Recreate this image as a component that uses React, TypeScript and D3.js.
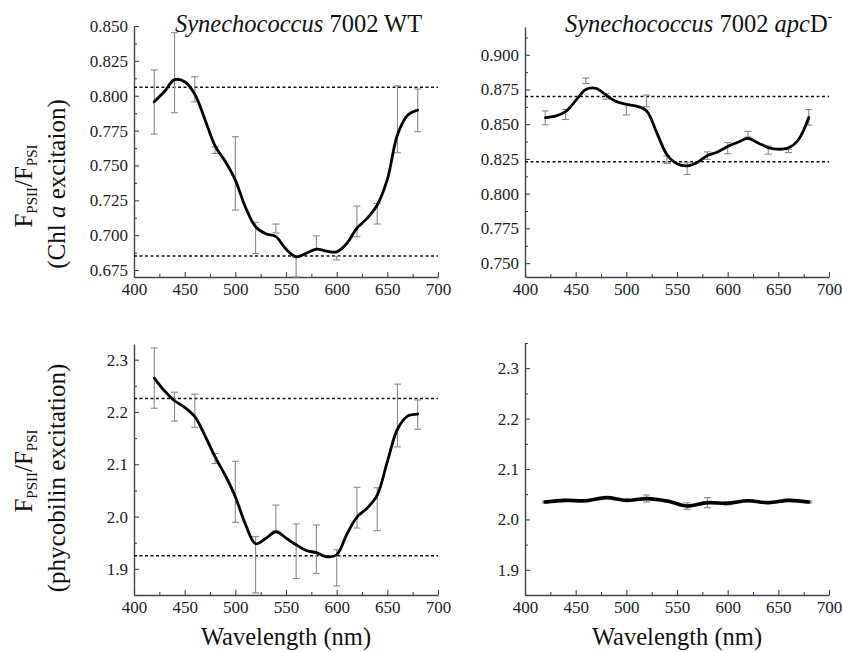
import React, { useRef, useEffect } from "react";
import * as d3 from "d3";

// measured points (nm)
const wavelengths = [420, 440, 460, 480, 500, 520, 540, 560, 580, 600, 620, 640, 660, 680];
// wavelengths of the smoothed curve
const fitWavelengths = [420, 430, 440, 450, 460, 470, 480, 490, 500, 510, 520, 530, 540, 550,
  560, 570, 580, 590, 600, 610, 620, 630, 640, 650, 660, 670, 680];

const xTicks = [400, 450, 500, 550, 600, 650, 700];
const xMinor = [425, 475, 525, 575, 625, 675];

// WT, Chl a excitation
const wtChlMean = [0.7955, 0.8165, 0.8046, 0.761, 0.7443, 0.698, 0.7048, 0.677, 0.6945, 0.6835, 0.7099, 0.7154, 0.7831, 0.7895];
const wtChlErr = [0.023, 0.0287, 0.009, 0.0024, 0.0263, 0.0112, 0.0032, 0.007, 0.005, 0.0012, 0.011, 0.0074, 0.024, 0.0153];
const wtChlFit = [0.7957, 0.803, 0.8115, 0.81, 0.801, 0.783, 0.764, 0.753, 0.7395, 0.72, 0.706, 0.701, 0.699, 0.69,
  0.6845, 0.687, 0.69, 0.6885, 0.688, 0.694, 0.705, 0.712, 0.7216, 0.74, 0.772, 0.786, 0.7897];
const wtChlRefs = [0.806, 0.685];
const wtChlTicks = [0.675, 0.7, 0.725, 0.75, 0.775, 0.8, 0.825, 0.85];

// apcD-, Chl a excitation
const apcChlMean = [0.8546, 0.857, 0.8813, 0.87, 0.8606, 0.8668, 0.8245, 0.818, 0.8274, 0.8328, 0.8428, 0.8314, 0.8308, 0.855];
const apcChlErr = [0.005, 0.0036, 0.002, 0.002, 0.0039, 0.0042, 0.0027, 0.0042, 0.0027, 0.004, 0.002, 0.003, 0.0012, 0.0056];
const apcChlFit = [0.8548, 0.8558, 0.859, 0.867, 0.875, 0.8758, 0.871, 0.8663, 0.8643, 0.863, 0.8596, 0.844, 0.8282, 0.8215,
  0.82, 0.8225, 0.8275, 0.83, 0.834, 0.837, 0.8398, 0.8365, 0.8332, 0.832, 0.833, 0.839, 0.8548];
const apcChlRefs = [0.87, 0.823];
const apcChlTicks = [0.75, 0.775, 0.8, 0.825, 0.85, 0.875, 0.9];

// WT, phycobilin excitation
const wtPcbMean = [2.2648, 2.2103, 2.2023, 2.111, 2.0474, 1.908, 1.997, 1.9337, 1.9375, 1.9019, 2.017, 2.0141, 2.1933, 2.195];
const wtPcbErr = [0.0577, 0.0276, 0.0317, 0.0096, 0.0584, 0.054, 0.025, 0.0523, 0.0465, 0.0346, 0.039, 0.041, 0.06, 0.028];
const wtPcbFit = [2.2648, 2.2405, 2.2215, 2.209, 2.191, 2.155, 2.114, 2.079, 2.038, 1.985, 1.948, 1.958, 1.971, 1.959,
  1.946, 1.935, 1.931, 1.923, 1.927, 1.966, 1.999, 2.016, 2.041, 2.105, 2.167, 2.192, 2.196];
const wtPcbRefs = [2.226, 1.925];
const pcbTicks = [1.9, 2.0, 2.1, 2.2, 2.3];

// apcD-, phycobilin excitation
const apcPcbMean = [2.0345, 2.0378, 2.037, 2.0432, 2.0378, 2.0414, 2.0365, 2.0265, 2.0332, 2.0319, 2.037, 2.0332, 2.0378, 2.0345];
const apcPcbErr = [0.002, 0.002, 0.002, 0.002, 0.002, 0.007, 0.002, 0.0065, 0.01, 0.003, 0.002, 0.002, 0.002, 0.002];
const apcPcbFit = [2.0345, 2.0378, 2.037, 2.0432, 2.0378, 2.0412, 2.0365, 2.0265, 2.0332, 2.0319, 2.037, 2.0332, 2.0378, 2.0345];

const FONT = "Liberation Serif, Tinos, DejaVu Serif, serif";

const panels = [
  { x0: 134, x1: 438, top: 26, bottom: 277, domain: [0.67, 0.85], ticks: wtChlTicks, step: 0.025, fmt: ".3f",
    fitX: fitWavelengths, fit: wtChlFit, mean: wtChlMean, err: wtChlErr, refs: wtChlRefs, lw: 2.8 },
  { x0: 525, x1: 829, top: 27, bottom: 277, domain: [0.74, 0.92], ticks: apcChlTicks, step: 0.025, fmt: ".3f",
    fitX: fitWavelengths, fit: apcChlFit, mean: apcChlMean, err: apcChlErr, refs: apcChlRefs, lw: 2.8 },
  { x0: 134, x1: 438, top: 344, bottom: 595, domain: [1.85, 2.33], ticks: pcbTicks, step: 0.1, fmt: ".1f",
    fitX: fitWavelengths, fit: wtPcbFit, mean: wtPcbMean, err: wtPcbErr, refs: wtPcbRefs, lw: 2.8 },
  { x0: 525, x1: 829, top: 343, bottom: 595, domain: [1.85, 2.35], ticks: pcbTicks, step: 0.1, fmt: ".1f",
    fitX: wavelengths, fit: apcPcbFit, mean: apcPcbMean, err: apcPcbErr, refs: [], lw: 3.6 },
];

function drawPanel(svg, p) {
  const x = d3.scaleLinear().domain([400, 700]).range([p.x0, p.x1]);
  const y = d3.scaleLinear().domain(p.domain).range([p.bottom, p.top]);
  const g = svg.append("g");

  const yMinor = p.ticks.map(t => t - p.step / 2)
    .concat([p.ticks[p.ticks.length - 1] + p.step / 2])
    .filter(t => t >= p.domain[0] - 1e-9 && t <= p.domain[1] + 1e-9);

  // minor ticks
  g.append("g").attr("transform", `translate(0,${p.bottom})`)
    .call(d3.axisBottom(x).tickValues(xMinor).tickSize(-3).tickSizeOuter(0).tickFormat(() => ""))
    .call(a => a.select(".domain").remove());
  g.append("g").attr("transform", `translate(${p.x0},0)`)
    .call(d3.axisLeft(y).tickValues(yMinor).tickSize(-3).tickSizeOuter(0).tickFormat(() => ""))
    .call(a => a.select(".domain").remove());

  const xa = g.append("g").attr("transform", `translate(0,${p.bottom})`)
    .call(d3.axisBottom(x).tickValues(xTicks).tickSize(-5).tickSizeOuter(0).tickPadding(6));
  const ya = g.append("g").attr("transform", `translate(${p.x0},0)`)
    .call(d3.axisLeft(y).tickValues(p.ticks).tickSize(-5).tickSizeOuter(0).tickPadding(6).tickFormat(d3.format(p.fmt)));

  [xa, ya].forEach(a => {
    a.attr("font-family", FONT).attr("font-size", 17);
    a.selectAll("text").attr("fill", "#222");
    a.select(".domain").attr("stroke", "#444").attr("stroke-width", 1.4);
  });
  g.selectAll(".tick line").attr("stroke", "#444").attr("stroke-width", 1.1);

  // reference lines
  g.selectAll(".ref").data(p.refs).join("line")
    .attr("x1", p.x0).attr("x2", p.x1)
    .attr("y1", d => y(d)).attr("y2", d => y(d))
    .attr("stroke", "#111").attr("stroke-width", 1.5).attr("stroke-dasharray", "3,2.5");

  // error bars
  const bars = wavelengths.map((w, i) => ({ w, m: p.mean[i], e: p.err[i] }));
  const eb = g.append("g").attr("stroke", "#8a8a8a").attr("stroke-width", 1.1);
  eb.selectAll(".v").data(bars).join("line")
    .attr("x1", d => x(d.w)).attr("x2", d => x(d.w))
    .attr("y1", d => y(d.m - d.e)).attr("y2", d => y(d.m + d.e));
  eb.selectAll(".ct").data(bars).join("line")
    .attr("x1", d => x(d.w) - 3.5).attr("x2", d => x(d.w) + 3.5)
    .attr("y1", d => y(d.m + d.e)).attr("y2", d => y(d.m + d.e));
  eb.selectAll(".cb").data(bars).join("line")
    .attr("x1", d => x(d.w) - 3.5).attr("x2", d => x(d.w) + 3.5)
    .attr("y1", d => y(d.m - d.e)).attr("y2", d => y(d.m - d.e));

  // smoothed curve
  const line = d3.line()
    .x((d, i) => x(p.fitX[i]))
    .y(d => y(d))
    .curve(d3.curveCatmullRom.alpha(0.5));
  g.append("path").attr("d", line(p.fit))
    .attr("fill", "none").attr("stroke", "#000").attr("stroke-width", p.lw)
    .attr("stroke-linejoin", "round").attr("stroke-linecap", "round");
}

function YLabel({ cx, cy, second, italicA }) {
  return (
    <g style={{ fontFamily: FONT }} fontSize={25} fill="#111">
      <text transform={`translate(32,${cy}) rotate(-90)`} textAnchor="middle">
        F<tspan fontSize={15} dy={5}>PSII</tspan><tspan dy={-5}>/F</tspan><tspan fontSize={15} dy={5}>PSI</tspan>
      </text>
      <text transform={`translate(65,${cx}) rotate(-90)`} textAnchor="middle">
        {italicA ? (<>(Chl <tspan fontStyle="italic">a</tspan> excitaion)</>) : second}
      </text>
    </g>
  );
}

export default function App() {
  const svgRef = useRef(null);
  useEffect(() => {
    const svg = d3.select(svgRef.current).select("g.plots");
    svg.selectAll("*").remove();
    panels.forEach(p => drawPanel(svg, p));
  }, []);

  return (
    <div style={{ position: "absolute", left: 0, top: 0 }}>
      <svg ref={svgRef} width={842} height={652} style={{ display: "block", background: "#fff", fontFamily: FONT }}>
        <g className="plots" />
        <g style={{ fontFamily: FONT }} fontSize={24.5} fill="#111">
          <text x={175} y={32}><tspan fontStyle="italic">Synechococcus</tspan> 7002 WT</text>
          <text x={565} y={32}><tspan fontStyle="italic">Synechococcus</tspan> 7002 <tspan fontStyle="italic">apc</tspan>D<tspan fontSize={14} dy={-11}>-</tspan></text>
          <text x={286} y={645} textAnchor="middle">Wavelength (nm)</text>
          <text x={677} y={645} textAnchor="middle">Wavelength (nm)</text>
        </g>
        <YLabel cx={184} cy={186} italicA />
        <YLabel cx={478} cy={471} second="(phycobilin excitation)" />
      </svg>
    </div>
  );
}
